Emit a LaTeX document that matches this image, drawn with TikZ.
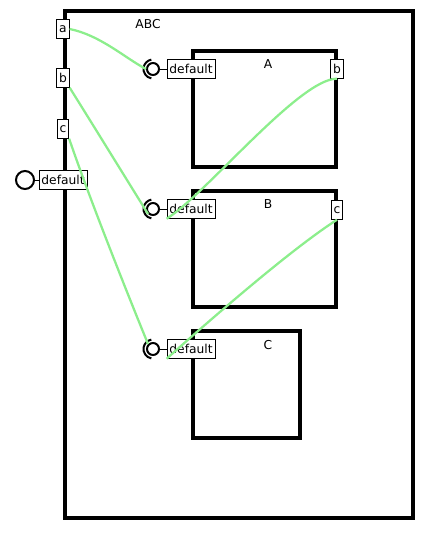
\documentclass[tikz,border=0pt]{standalone}
\usepackage{fontspec}
\setmainfont{DejaVu Sans}
\definecolor{wiregreen}{RGB}{140,238,140}
\begin{document}
\begin{tikzpicture}[x=0.75pt, y=-0.75pt,
    every node/.style={font=\fontsize{9.2}{11}\selectfont, inner sep=1.5pt},
    compbox/.style={draw, line width=2.5pt},
    portbox/.style={draw, fill=white, line width=0.6pt, minimum height=14pt, inner xsep=1.8pt},
    socket/.style={draw, circle, line width=1.5pt, inner sep=0pt, minimum size=9pt},
    wire/.style={wiregreen, line width=1.7pt}]

    \useasboundingbox (0,0) rectangle (440,535);

    % components
    \draw[compbox] (65,11) rectangle (413,518);
    \draw[compbox] (193,51) rectangle (336,167);
    \draw[compbox] (193,191) rectangle (336,307);
    \draw[compbox] (193,331) rectangle (300,438);
    \node (ABC) at (148,24) {ABC};
    \node (A) at (268,64) {A};
    \node (B) at (268,204) {B};
    \node (C) at (268,345) {C};

    % ports of ABC
    \node[portbox] (pa) at (63,29) {a};
    \node[portbox] (pb) at (63,78) {b};
    \node[portbox] (pc) at (63,129) {c};
    \node[portbox] (dABC) at (63,180) {default};
    \node[socket, minimum size=13.5pt] (sABC) at (25,180) {};
    \draw[line width=0.6pt] (sABC) -- (dABC);

    % ports of A, B, C
    \node[portbox] (pAb) at (337,69) {b};
    \node[portbox] (pBc) at (337,210) {c};
    \foreach \n/\y in {A/69, B/209, C/349} {
        \node[portbox] (d\n) at (191,\y) {default};
        \node[socket] (s\n) at (153,\y) {};
        \draw[line width=1.5pt] ([shift={(100:9.5)}]s\n.center) arc (100:260:9.5);
        \draw[line width=0.6pt] (s\n) -- (d\n);
    }

    % wires
    \draw[wire] (pa.east) .. controls (100,35) and (125,58) .. (sA.west);
    \draw[wire] (pb.south east) .. controls (90,120) and (130,185) .. (sB.south west);
    \draw[wire] (pc.south east) .. controls (90,200) and (130,300) .. (sC.north west);
    \draw[wire] (pAb.south) .. controls (300,78) and (205,195) .. (dB.south west);
    \draw[wire] (pBc.south) .. controls (290,250) and (210,320) .. (dC.south west);
\end{tikzpicture}
\end{document}
